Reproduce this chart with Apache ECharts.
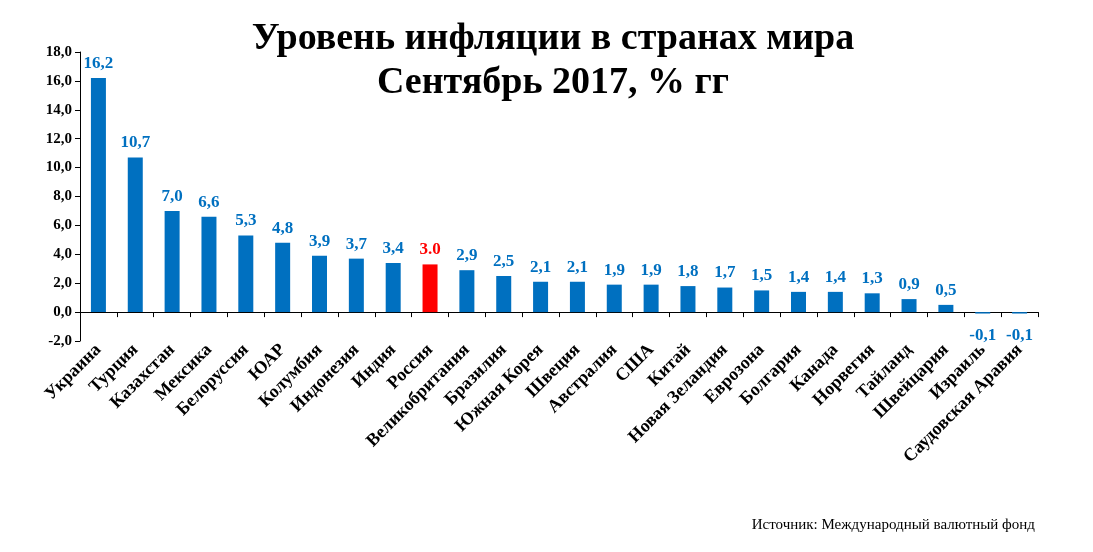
<!DOCTYPE html><html><head><meta charset="utf-8"><script src="https://cdn.jsdelivr.net/npm/echarts@6/dist/echarts.min.js"></script></head><body style="margin:0"><div id="c" style="width:1093px;height:552px"></div><script>
const categories=["Украина","Турция","Казахстан","Мексика","Белоруссия","ЮАР","Колумбия","Индонезия","Индия","Россия","Великобритания","Бразилия","Южная Корея","Швеция","Австралия","США","Китай","Новая Зеландия","Еврозона","Болгария","Канада","Норвегия","Тайланд","Швейцария","Израиль","Саудовская Аравия"];
const values=[16.2,10.7,7.0,6.6,5.3,4.8,3.9,3.7,3.4,3.3,2.9,2.5,2.1,2.1,1.9,1.9,1.8,1.7,1.5,1.4,1.4,1.3,0.9,0.5,-0.1,-0.1];
const labels=["16,2","10,7","7,0","6,6","5,3","4,8","3,9","3,7","3,4","3.0","2,9","2,5","2,1","2,1","1,9","1,9","1,8","1,7","1,5","1,4","1,4","1,3","0,9","0,5","-0,1","-0,1"];
const F='"Liberation Serif", serif';
const data=values.map((v,i)=>{const red=categories[i]==="Россия";return {value:v,itemStyle:{color:red?'#FF0000':'#0070C0'},label:{position:v<0?'bottom':'top',color:red?'#FF0000':'#0070C0',distance:v<0?14:6}}});
const ch=echarts.init(document.getElementById('c'));
ch.setOption({animation:false,
title:{text:'Уровень инфляции в странах мира\nСентябрь 2017, % гг',left:548,top:12,textAlign:'center',textStyle:{fontFamily:F,fontSize:38,fontWeight:'bold',color:'#000',lineHeight:44}},
graphic:[{type:'text',right:58,top:518,style:{text:'Источник: Международный валютный фонд',font:'15px "Liberation Serif", serif',fill:'#000'}}],
grid:{left:80,right:55,top:52,bottom:211},
xAxis:[{type:'category',data:categories,axisLine:{onZero:true,lineStyle:{color:'#000'}},axisTick:{show:true,interval:0,lineStyle:{color:'#000'}},axisLabel:{show:false}},
{type:'category',data:categories,position:'bottom',axisLine:{show:false},axisTick:{show:false},axisLabel:{rotate:45,interval:0,fontFamily:F,fontSize:18,fontWeight:'bold',color:'#000',margin:6}}],
yAxis:{type:'value',min:-2,max:18,interval:2,splitLine:{show:false},axisLine:{show:true,lineStyle:{color:'#000'}},axisTick:{show:true,lineStyle:{color:'#000'}},axisLabel:{fontFamily:F,fontSize:15,fontWeight:'bold',color:'#000',formatter:v=>v.toFixed(1).replace('.',',')}},
series:[{type:'bar',barWidth:15,data:data,label:{show:true,fontFamily:F,fontSize:17,fontWeight:'bold',formatter:p=>labels[p.dataIndex]}}]});
</script></body></html>
